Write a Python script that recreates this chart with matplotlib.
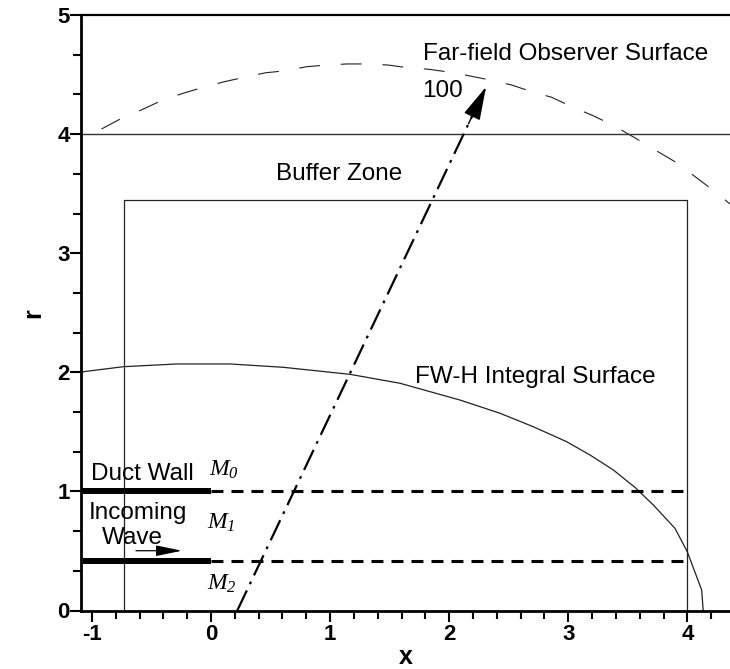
import numpy as np
import matplotlib
matplotlib.use('Agg')
import matplotlib.pyplot as plt

plt.rcParams['font.family'] = ['Liberation Sans', 'DejaVu Sans']
plt.rcParams['mathtext.fontset'] = 'custom'
plt.rcParams['mathtext.rm'] = 'Liberation Serif:italic'
plt.rcParams['mathtext.it'] = 'Liberation Serif:italic'
plt.rcParams['axes.unicode_minus'] = False
plt.rcParams['lines.scale_dashes'] = False

# far-field observer surface (dashed arc)
far_x = [-0.919, -0.750, -0.573, -0.406, -0.233, -0.065, 0.112, 0.280, 0.459, 0.627,
         0.804, 0.971, 1.144, 1.312, 1.486, 1.654, 1.830, 1.998, 2.175, 2.343,
         2.525, 2.693, 2.861, 3.029, 3.205, 3.373, 3.552, 3.720, 3.896, 4.058,
         4.240, 4.358]
far_r = [4.043, 4.133, 4.208, 4.286, 4.343, 4.393, 4.440, 4.477, 4.515, 4.532,
         4.566, 4.580, 4.589, 4.589, 4.580, 4.557, 4.544, 4.521, 4.488, 4.454,
         4.412, 4.356, 4.309, 4.230, 4.156, 4.076, 3.973, 3.872, 3.768, 3.648,
         3.511, 3.413]

# FW-H integral surface
fwh_x = [-1.09, -1.072, -0.736, -0.288, 0.160, 0.607, 1.167, 1.587, 2.091, 2.427,
         2.706, 2.987, 3.182, 3.378, 3.560, 3.714, 3.896, 3.999, 4.078, 4.120, 4.133]
fwh_r = [1.995, 2.005, 2.047, 2.070, 2.070, 2.042, 1.983, 1.908, 1.767, 1.656,
         1.543, 1.417, 1.306, 1.180, 1.034, 0.886, 0.690, 0.494, 0.284, 0.172, 0.0]

# buffer zone box
buffer_x = [-0.73, -0.73, 4.0, 4.0]
buffer_r = [0.0, 3.447, 3.447, 0.0]
buffer_top_r = 4.0

# duct walls and mean flow interfaces
wall_r = [1.0, 0.413]
wall_x0 = [-1.0915, -1.072]
wall_x1 = 0.0
iface_x = [0.0, 4.0]

# ray to observer 100
ray_x = [0.221, 2.309]
ray_r = [0.0, 4.395]

# incoming wave arrow
wave_x = [-0.63, -0.244]
wave_r = 0.502

fig = plt.figure(figsize=(7.3, 6.69), dpi=100)
ax = fig.add_axes([81 / 730, 58.5 / 669, 649 / 730, 595.5 / 669])

ax.plot(far_x, far_r, color='#222222', lw=0.8, dashes=(15, 15))
ax.axhline(buffer_top_r, color='#333333', lw=1.0)
ax.plot(buffer_x, buffer_r, color='#222222', lw=0.9)
ax.plot(fwh_x, fwh_r, color='#222222', lw=0.9)

for r, x0 in zip(wall_r, wall_x0):
    ax.plot([x0, wall_x1], [r, r], color='black', lw=4.3, solid_capstyle='butt')
    ax.plot(iface_x, [r, r], color='black', lw=2.2, dashes=(8.6, 5.8))

ax.plot(ray_x, ray_r, color='black', lw=1.6, dashes=(16, 5, 2, 5))
hx = ray_x[0] + 0.93 * (ray_x[1] - ray_x[0])
hr = ray_r[0] + 0.93 * (ray_r[1] - ray_r[0])
ax.annotate('', xy=(ray_x[1], ray_r[1]), xytext=(hx, hr),
            arrowprops=dict(arrowstyle='-|>,head_length=21,head_width=5.5',
                            mutation_scale=1, lw=1.0, color='black',
                            shrinkA=0, shrinkB=0))
ax.annotate('', xy=(wave_x[1], wave_r), xytext=(wave_x[0], wave_r),
            arrowprops=dict(arrowstyle='-|>,head_length=16,head_width=3.3',
                            mutation_scale=1, lw=0.9, color='black',
                            shrinkA=0, shrinkB=0))

fs = 17.5
ax.text(2.981, 4.622, 'Far-field Observer Surface', fontsize=fs, ha='center', va='baseline')
ax.text(1.944, 4.314, '100', fontsize=fs, ha='center', va='baseline')
ax.text(1.075, 3.614, 'Buffer Zone', fontsize=fs, ha='center', va='baseline')
ax.text(2.720, 1.907, 'FW-H Integral Surface', fontsize=fs, ha='center', va='baseline')
ax.text(-0.577, 1.096, 'Duct Wall', fontsize=fs, ha='center', va='baseline')
ax.text(-0.613, 0.766, 'Incoming', fontsize=fs, ha='center', va='baseline')
ax.text(-0.656, 0.558, 'Wave', fontsize=fs, ha='center', va='baseline')
ax.text(-0.014, 1.129, r'$M_0$', fontsize=17, ha='left', va='baseline')
ax.text(-0.030, 0.690, r'$M_1$', fontsize=17, ha='left', va='baseline')
ax.text(-0.030, 0.172, r'$M_2$', fontsize=17, ha='left', va='baseline')

ax.set_xlim(-1.0915, 4.358)
ax.set_ylim(0, 5)
ax.set_xticks([-1, 0, 1, 2, 3, 4])
ax.set_xticks(np.arange(-1.0, 4.3, 0.2), minor=True)
ax.set_yticks([0, 1, 2, 3, 4, 5])
ax.set_yticks(np.arange(0, 5.01, 1 / 3), minor=True)
for lab in ax.get_xticklabels() + ax.get_yticklabels():
    lab.set_fontweight('bold')
ax.tick_params(which='both', direction='out', width=1.5, labelsize=16)
ax.tick_params(which='major', length=8)
ax.tick_params(which='minor', length=6)
ax.tick_params(axis='x', pad=2)
ax.tick_params(axis='y', pad=0)

ax.spines['right'].set_visible(False)
ax.spines['left'].set_linewidth(2.0)
ax.spines['bottom'].set_linewidth(2.0)
ax.spines['top'].set_linewidth(1.6)

ax.set_xlabel('x', fontsize=18, fontweight='bold', labelpad=0)
ax.set_ylabel('r', fontsize=18, fontweight='bold', labelpad=9)

fig.savefig('out.png', dpi=100)
